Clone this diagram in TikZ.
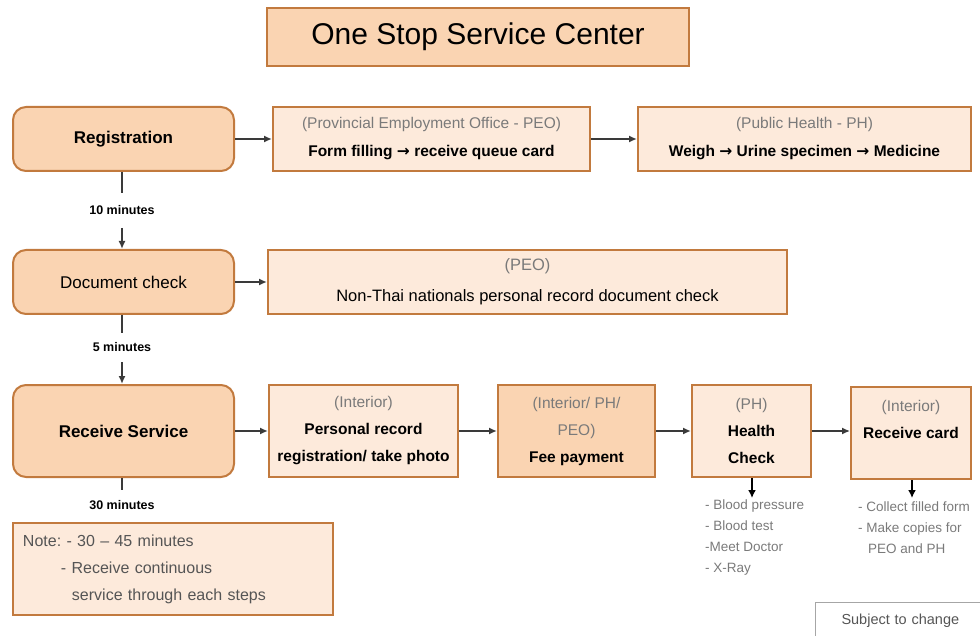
\documentclass[tikz,border=0pt]{standalone}
\usepackage{fontspec}
\setmainfont{Liberation Sans}
\newfontfamily\symf{DejaVu Sans}
\usetikzlibrary{arrows.meta}
\definecolor{peach}{HTML}{FAD4B2}
\definecolor{lightpeach}{HTML}{FDEADB}
\definecolor{brd}{HTML}{C27A3E}
\definecolor{graytxt}{HTML}{7A7A7A}
\definecolor{notetxt}{HTML}{555555}
\definecolor{conn}{HTML}{3A3A3A}
\newcommand{\rarr}{{\symf\bfseries →}}
\newcommand{\gtxt}[1]{\textcolor{graytxt}{\fontseries{m}\selectfont #1}}
\frenchspacing
\begin{document}
\begin{tikzpicture}[x=1pt,y=-1pt,
  titlebox/.style={draw=brd, line width=2pt, fill=peach, inner sep=0pt,
    minimum width=422pt, minimum height=58pt, font=\fontsize{30}{34}\selectfont},
  mainbox/.style={draw=brd, line width=2pt, fill=peach, rounded corners=13pt, inner sep=0pt,
    minimum width=221pt, font=\bfseries\fontsize{17}{20}\selectfont},
  infobox/.style={draw=brd, line width=2pt, fill=lightpeach, inner sep=0pt, align=center,
    font=\bfseries\fontsize{15.5}{27}\selectfont},
  minlabel/.style={font=\bfseries\fontsize{12.5}{14}\selectfont, inner sep=0pt},
  bullets/.style={font=\fontsize{13.5}{20.7}\selectfont, text=graytxt, align=left, inner sep=0pt},
  flow/.style={draw=conn, line width=1.8pt, -{Latex[length=8pt,width=7pt]}},
  plain/.style={draw=conn, line width=1.8pt},
  downarr/.style={draw=black, line width=1.8pt, -{Latex[length=8pt,width=8pt]}}
]
\useasboundingbox (0,0) rectangle (980,636);

% title
\node[titlebox] (title) at (478,37) {One Stop Service Center};

% row 1
\node[mainbox, minimum height=64pt] (reg) at (123.5,139) {Registration};
\node[infobox, minimum width=317pt, minimum height=64pt, font=\bfseries\fontsize{15.5}{28}\selectfont] (peo1) at (431.5,139)
  {\gtxt{(Provincial Employment Office - PEO)}\\Form filling \rarr{} receive queue card};
\node[infobox, minimum width=333pt, minimum height=64pt, font=\bfseries\fontsize{15.5}{28}\selectfont] (ph1) at (804.5,139)
  {\gtxt{(Public Health - PH)}\\Weigh \rarr{} Urine specimen \rarr{} Medicine};
\draw[flow] (reg.east) -- (peo1.west);
\draw[flow] (peo1.east) -- (ph1.west);

% row 2
\node[mainbox, minimum height=64pt, font=\fontsize{17}{20}\selectfont] (doc) at (123.5,282) {Document check};
\node[infobox, minimum width=519pt, minimum height=64pt, font=\fontsize{16.5}{31}\selectfont] (peo2) at (527.5,282)
  {\gtxt{(PEO)}\\Non-Thai nationals personal record document check};
\draw[flow] (doc.east) -- (peo2.west);

% row 3
\node[mainbox, minimum height=92pt] (rs) at (123.5,431) {Receive Service};
\node[infobox, minimum width=189pt, minimum height=92pt] (int1) at (363.5,431)
  {\gtxt{(Interior)}\\Personal record\\registration/ take photo};
\node[infobox, fill=peach, minimum width=157pt, minimum height=92pt] (fee) at (576.5,431)
  {\gtxt{(Interior/ PH/}\\\gtxt{PEO)}\\Fee payment};
\node[infobox, minimum width=119pt, minimum height=92pt] (hc) at (751.5,431)
  {\gtxt{(PH)}\\Health\\Check};
\node[infobox, minimum width=120pt, minimum height=92pt] (rc) at (911,433)
  {\gtxt{(Interior)}\\Receive card\\\mbox{}};
\draw[flow] (rs.east) -- (int1.west);
\draw[flow] (int1.east) -- (fee.west);
\draw[flow] (fee.east) -- (hc.west);
\draw[flow, line width=1.4pt] (hc.east) -- (rc.west |- hc.east);

% vertical connectors with durations
\coordinate (r1) at (122,193);
\coordinate (r2) at (122,228);
\node[minlabel] (m10) at (122,210) {10 minutes};
\draw[plain] (reg.south -| r1) -- (r1);
\draw[flow] (r2) -- (doc.north -| r2);

\coordinate (d1) at (122,333);
\coordinate (d2) at (122,362);
\node[minlabel] (m5) at (122,347) {5 minutes};
\draw[plain] (doc.south -| d1) -- (d1);
\draw[flow] (d2) -- (rs.north -| d2);

\coordinate (s1) at (122,490);
\node[minlabel] (m30) at (122,505) {30 minutes};
\draw[plain] (rs.south -| s1) -- (s1);

% health check sub-items
\coordinate (h1) at (752,498);
\draw[downarr] (hc.south -| h1) -- (h1);
\node[bullets, anchor=north west] (hcl) at (705,500)
  {- Blood pressure\\- Blood test\\-Meet Doctor\\- X-Ray};

\coordinate (c1) at (912,498);
\draw[downarr] (rc.south -| c1) -- (c1);
\node[bullets, anchor=north west] (rcl) at (858,502)
  {- Collect filled form\\- Make copies for\\\hspace*{10pt}PEO and PH};

% note
\node[draw=brd, line width=2pt, fill=lightpeach, minimum width=320pt, minimum height=92pt,
  text width=300pt, align=left, inner xsep=10pt, inner ysep=0pt, text=notetxt,
  font=\fontsize{16}{27}\selectfont] (note) at (173,569)
  {Note: - 30 -- 45 minutes\\\hspace*{38pt}- Receive continuous\\\hspace*{49pt}service through each steps};

% subject to change
\node[draw=gray!70, line width=1pt, anchor=north west, minimum width=200pt, minimum height=50pt,
  text width=180pt, align=left, inner xsep=26pt, inner ysep=11pt, text=notetxt,
  font=\fontsize{14.5}{17}\selectfont, text depth=30pt] (subj) at (815,602)
  {Subject to change};
\end{tikzpicture}
\end{document}
